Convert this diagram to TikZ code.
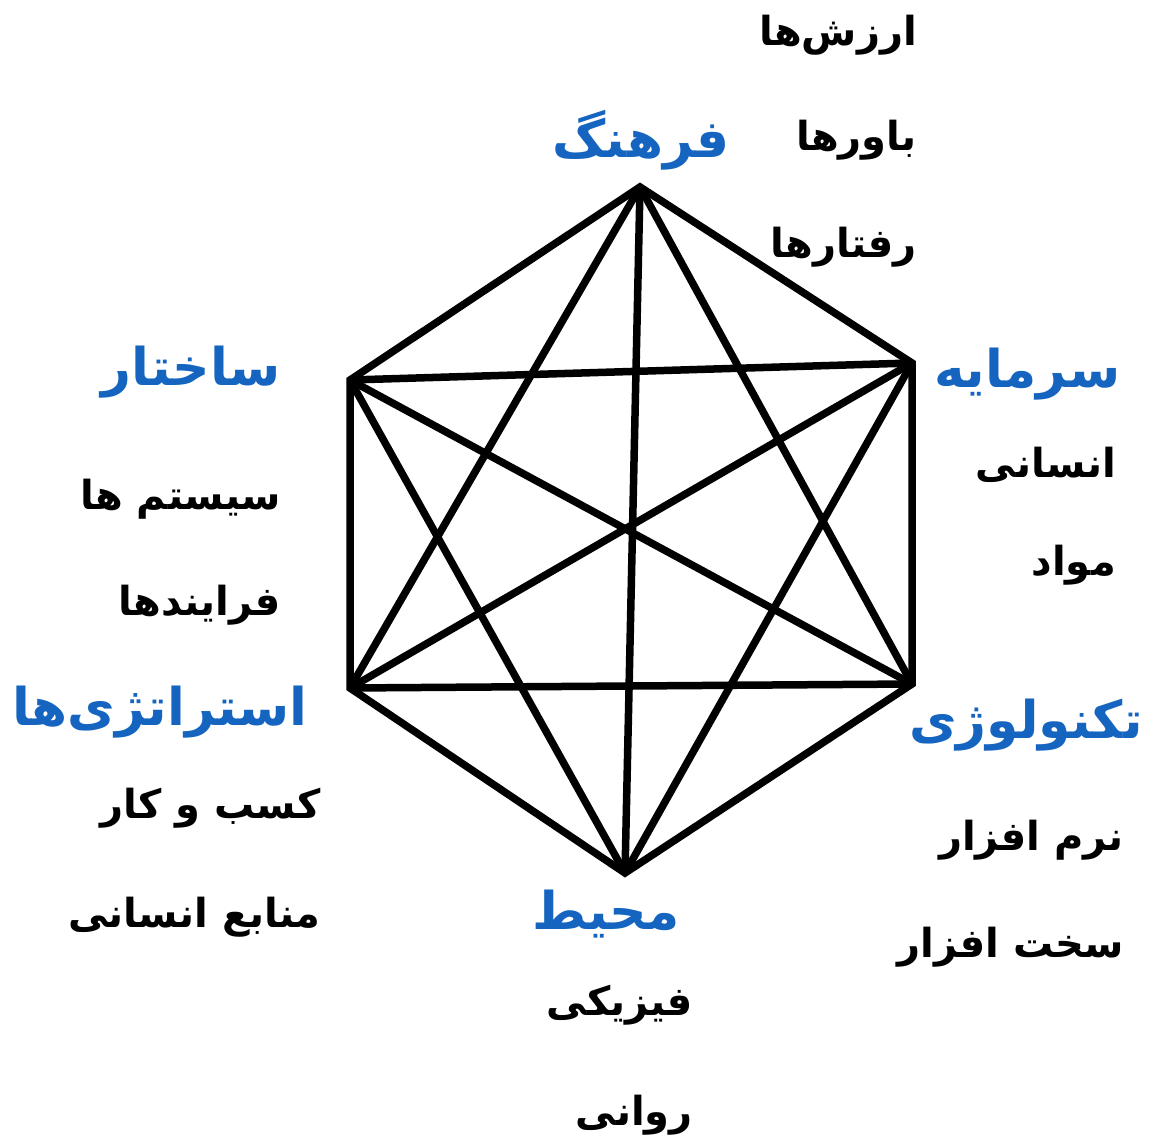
\documentclass[tikz,border=0pt]{standalone}
\usepackage{fontspec}
\TeXXeTstate=1
\newfontfamily\arabicbold[Script=Arabic]{DejaVu Sans Bold}
\definecolor{titleblue}{RGB}{21,101,192}
\tikzset{
  edge/.style={line width=7.5pt, black, line cap=butt, line join=miter},
  head/.style={font=\arabicbold\fontsize{52}{62}\selectfont, text=titleblue, inner sep=0pt},
  item/.style={font=\arabicbold\fontsize{40}{48}\selectfont, text=black, inner sep=0pt},
}
\begin{document}
\begin{tikzpicture}[x=1pt,y=-1pt]
\useasboundingbox[fill=white] (0,0) rectangle (1151,1142);
% vertices
\coordinate (T) at (640,187);
\coordinate (UR) at (912,363);
\coordinate (LR) at (912,684);
\coordinate (B) at (625,873);
\coordinate (LL) at (350,688);
\coordinate (UL) at (350,380);
% hexagon edges
\draw[edge] (T) -- (UR) -- (LR) -- (B) -- (LL) -- (UL) -- cycle;
% diagonals
\draw[edge] (T) -- (LL);
\draw[edge] (T) -- (LR);
\draw[edge] (T) -- (B);
\draw[edge] (UL) -- (UR);
\draw[edge] (UL) -- (LR);
\draw[edge] (UL) -- (B);
\draw[edge] (UR) -- (LL);
\draw[edge] (UR) -- (B);
\draw[edge] (LL) -- (LR);
% headings
\node[head] (h1) at (641,140) {\beginR فرهنگ\endR};
\node[head, anchor=east] (h2) at (281,372) {\beginR ساختار\endR};
\node[head, anchor=east] (h3) at (308,712) {\beginR استراتژی‌ها\endR};
\node[head, anchor=west] (h4) at (934,374) {\beginR سرمایه\endR};
\node[head, anchor=west] (h5) at (909,725) {\beginR تکنولوژی\endR};
\node[head] (h6) at (606,914) {\beginR محیط\endR};
% items
\node[item, anchor=east] (i1) at (917,35) {\beginR ارزش‌ها\endR};
\node[item, anchor=east] (i2) at (917,140) {\beginR باورها\endR};
\node[item, anchor=east] (i3) at (917,247) {\beginR رفتارها\endR};
\node[item, anchor=east] (i4) at (281,499) {\beginR سیستم ها\endR};
\node[item, anchor=east] (i5) at (281,605) {\beginR فرایندها\endR};
\node[item, anchor=east] (i6) at (321,808) {\beginR کسب و کار\endR};
\node[item, anchor=east] (i7) at (321,917) {\beginR منابع انسانی\endR};
\node[item, anchor=east] (i8) at (1116,465) {\beginR انسانی\endR};
\node[item, anchor=east] (i9) at (1116,565) {\beginR مواد\endR};
\node[item, anchor=east] (i10) at (1124,840) {\beginR نرم افزار\endR};
\node[item, anchor=east] (i11) at (1124,947) {\beginR سخت افزار\endR};
\node[item, anchor=east] (i12) at (693,1005) {\beginR فیزیکی\endR};
\node[item, anchor=east] (i13) at (693,1115) {\beginR روانی\endR};
\end{tikzpicture}
\end{document}
